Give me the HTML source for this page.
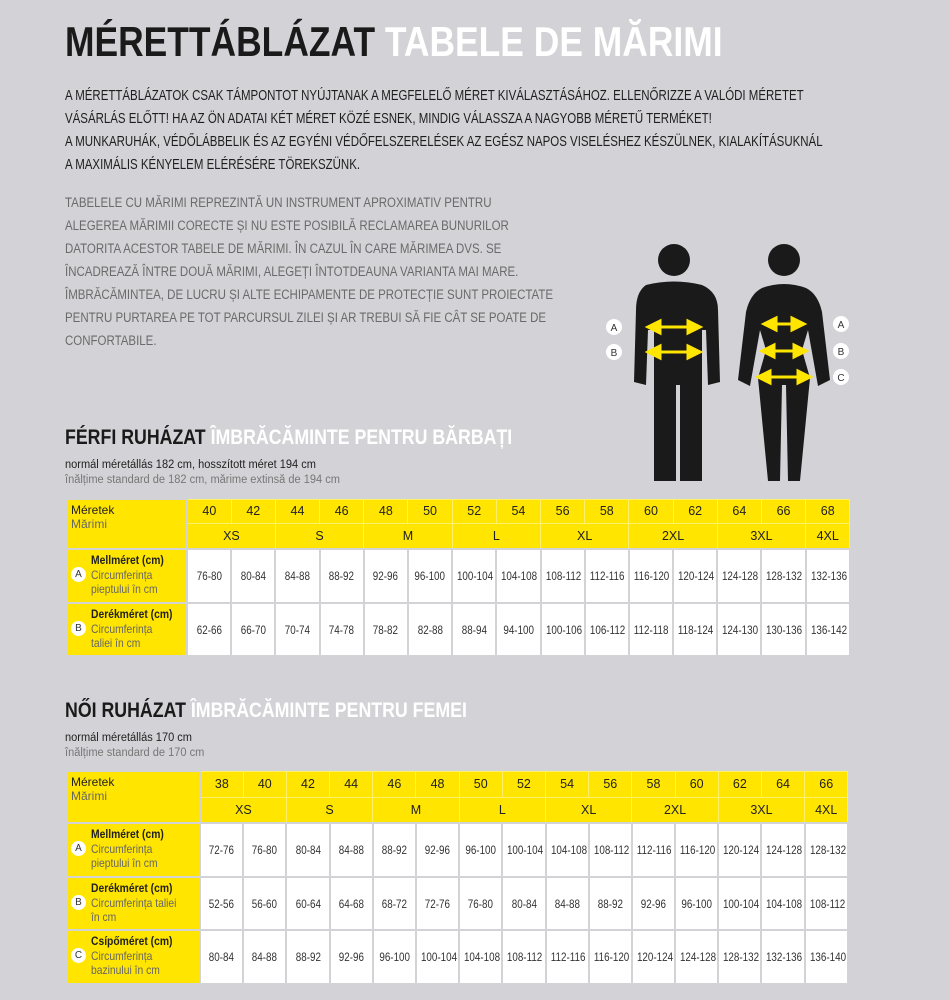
<!DOCTYPE html>
<html><head><meta charset="utf-8"><style>
body{margin:0;width:950px;height:1000px;background:#d3d3d7;position:relative;overflow:hidden;font-family:"Liberation Sans Narrow","Liberation Sans",sans-serif;}
.a{position:absolute;white-space:nowrap}
.sx{transform-origin:0 0}
h1{position:absolute;left:65px;top:18px;margin:0;font-size:42px;font-weight:bold;color:#1a1a1a;white-space:nowrap;transform:scaleX(0.843);transform-origin:0 0}
h1 span{color:#fff}
.hu{left:65px;font-size:15px;color:#1e1e1e;line-height:23px;top:84px;transform:scaleX(0.765)}
.ro{left:65px;font-size:14.2px;color:#6a6a6a;line-height:23px;top:192px;transform:scaleX(0.81)}
h2{position:absolute;left:65px;margin:0;font-size:21px;font-weight:bold;color:#1a1a1a;white-space:nowrap;transform:scaleX(0.845);transform-origin:0 0}
h2 span{color:#fff}
.sub{left:65px;font-size:11.5px;line-height:15px;color:#222;transform:scaleX(0.96)}
.sub i{font-style:normal;color:#777}
table{position:absolute;left:65px;border-collapse:collapse;table-layout:fixed;font-size:12px;color:#333}
td{text-align:center;padding:0;vertical-align:middle;white-space:nowrap;overflow:visible}
td span.n{display:inline-block;transform:scaleX(0.82)}
td.h{background:#ffe500;color:#222;border:1px solid #fff06a;font-size:12.5px}
td.l{background:#ffe500;border:2px solid #d3d3d7;text-align:left;padding-left:4px;font-size:12px;color:#222;line-height:14px;vertical-align:top;padding-top:3px}
td.l i{font-style:normal;color:#666}
td.d{background:#fff;border:2px solid #d3d3d7}
.lab{display:flex;align-items:center}
.c{display:inline-block;width:15px;height:15px;border-radius:50%;background:#fff;color:#333;font-size:10px;text-align:center;line-height:15px;margin-right:5px;flex:none}
.lab div{line-height:14.5px;color:#666;transform:scaleX(0.86);transform-origin:0 50%}
.lab div b{color:#222}
</style></head><body>
<h1>MÉRETTÁBLÁZAT <span>TABELE DE MĂRIMI</span></h1>
<div class="a hu sx">A MÉRETTÁBLÁZATOK CSAK TÁMPONTOT NYÚJTANAK A MEGFELELŐ MÉRET KIVÁLASZTÁSÁHOZ. ELLENŐRIZZE A VALÓDI MÉRETET<br>VÁSÁRLÁS ELŐTT! HA AZ ÖN ADATAI KÉT MÉRET KÖZÉ ESNEK, MINDIG VÁLASSZA A NAGYOBB MÉRETŰ TERMÉKET!<br>A MUNKARUHÁK, VÉDŐLÁBBELIK ÉS AZ EGYÉNI VÉDŐFELSZERELÉSEK AZ EGÉSZ NAPOS VISELÉSHEZ KÉSZÜLNEK, KIALAKÍTÁSUKNÁL<br>A MAXIMÁLIS KÉNYELEM ELÉRÉSÉRE TÖREKSZÜNK.</div>
<div class="a ro sx">TABELELE CU MĂRIMI REPREZINTĂ UN INSTRUMENT APROXIMATIV PENTRU<br>ALEGEREA MĂRIMII CORECTE ȘI NU ESTE POSIBILĂ RECLAMAREA BUNURILOR<br>DATORITA ACESTOR TABELE DE MĂRIMI. ÎN CAZUL ÎN CARE MĂRIMEA DVS. SE<br>ÎNCADREAZĂ ÎNTRE DOUĂ MĂRIMI, ALEGEȚI ÎNTOTDEAUNA VARIANTA MAI MARE.<br>ÎMBRĂCĂMINTEA, DE LUCRU ȘI ALTE ECHIPAMENTE DE PROTECȚIE SUNT PROIECTATE<br>PENTRU PURTAREA PE TOT PARCURSUL ZILEI ȘI AR TREBUI SĂ FIE CÂT SE POATE DE<br>CONFORTABILE.</div>

<svg class="a" style="left:590px;top:230px" width="270" height="260" viewBox="0 0 270 260">
<g fill="#1a1a1a">
<circle cx="84" cy="30" r="16"/>
<path d="M56 55 Q84 48 112 55 Q128 62 128 80 L130 152 L118 155 L116 100 L112 100 L112 251 L90 251 L90 155 L86 155 L86 251 L64 251 L64 100 L58 100 L56 155 L44 152 L46 80 Q46 62 56 55Z"/>
<circle cx="194" cy="30" r="16"/>
<path d="M172 58 Q194 50 216 58 Q228 64 232 82 L240 150 L228 156 L218 100 L212 120 L220 148 L210 251 L198 251 L196 155 L192 155 L190 251 L178 251 L168 148 L176 120 L170 100 L160 156 L148 150 L156 82 Q160 64 172 58Z"/>
</g>
<g fill="#ffe500" stroke="#ffe500" stroke-width="3">
<line x1="66" y1="97" x2="102" y2="97"/><path d="M58 97 L70 91 L70 103Z"/><path d="M110 97 L98 91 L98 103Z"/>
<line x1="66" y1="122" x2="102" y2="122"/><path d="M58 122 L70 116 L70 128Z"/><path d="M110 122 L98 116 L98 128Z"/>
<line x1="182" y1="94" x2="206" y2="94"/><path d="M174 94 L186 88 L186 100Z"/><path d="M214 94 L202 88 L202 100Z"/>
<line x1="180" y1="121" x2="208" y2="121"/><path d="M172 121 L184 115 L184 127Z"/><path d="M216 121 L204 115 L204 127Z"/>
<line x1="176" y1="147" x2="212" y2="147"/><path d="M168 147 L180 141 L180 153Z"/><path d="M220 147 L208 141 L208 153Z"/>
</g>
<g fill="#fff"><circle cx="24" cy="97" r="8"/><circle cx="24" cy="122" r="8"/><circle cx="251" cy="94" r="8"/><circle cx="251" cy="121" r="8"/><circle cx="251" cy="147" r="8"/></g>
<g font-family="Liberation Sans,sans-serif" font-size="10" fill="#333" text-anchor="middle"><text x="24" y="101">A</text><text x="24" y="126">B</text><text x="251" y="98">A</text><text x="251" y="125">B</text><text x="251" y="151">C</text></g>
</svg>

<h2 style="top:426px">FÉRFI RUHÁZAT <span>ÎMBRĂCĂMINTE PENTRU BĂRBAȚI</span></h2>
<div class="a sub sx" style="top:458px">normál méretállás 182 cm, hosszított méret 194 cm<br><i>înălțime standard de 182 cm, mărime extinsă de 194 cm</i></div>

<table style="top:498px;width:784px">
<colgroup><col style="width:121px"><col span="15" style="width:44.2px"></colgroup>
<tr style="height:24px"><td class="l" rowspan="2">Méretek<br><i>Mărimi</i></td><td class="h">40</td><td class="h">42</td><td class="h">44</td><td class="h">46</td><td class="h">48</td><td class="h">50</td><td class="h">52</td><td class="h">54</td><td class="h">56</td><td class="h">58</td><td class="h">60</td><td class="h">62</td><td class="h">64</td><td class="h">66</td><td class="h">68</td></tr>
<tr style="height:26px"><td class="h" colspan="2">XS</td><td class="h" colspan="2">S</td><td class="h" colspan="2">M</td><td class="h" colspan="2">L</td><td class="h" colspan="2">XL</td><td class="h" colspan="2">2XL</td><td class="h" colspan="2">3XL</td><td class="h">4XL</td></tr>
<tr style="height:54px"><td class="l"><div class="lab"><span class="c">A</span><div><b>Mellméret (cm)</b><br>Circumferința<br>pieptului în cm</div></div></td><td class="d"><span class="n">76-80</span></td><td class="d"><span class="n">80-84</span></td><td class="d"><span class="n">84-88</span></td><td class="d"><span class="n">88-92</span></td><td class="d"><span class="n">92-96</span></td><td class="d"><span class="n">96-100</span></td><td class="d"><span class="n">100-104</span></td><td class="d"><span class="n">104-108</span></td><td class="d"><span class="n">108-112</span></td><td class="d"><span class="n">112-116</span></td><td class="d"><span class="n">116-120</span></td><td class="d"><span class="n">120-124</span></td><td class="d"><span class="n">124-128</span></td><td class="d"><span class="n">128-132</span></td><td class="d"><span class="n">132-136</span></td></tr>
<tr style="height:53px"><td class="l"><div class="lab"><span class="c">B</span><div><b>Derékméret (cm)</b><br>Circumferința<br>taliei în cm</div></div></td><td class="d"><span class="n">62-66</span></td><td class="d"><span class="n">66-70</span></td><td class="d"><span class="n">70-74</span></td><td class="d"><span class="n">74-78</span></td><td class="d"><span class="n">78-82</span></td><td class="d"><span class="n">82-88</span></td><td class="d"><span class="n">88-94</span></td><td class="d"><span class="n">94-100</span></td><td class="d"><span class="n">100-106</span></td><td class="d"><span class="n">106-112</span></td><td class="d"><span class="n">112-118</span></td><td class="d"><span class="n">118-124</span></td><td class="d"><span class="n">124-130</span></td><td class="d"><span class="n">130-136</span></td><td class="d"><span class="n">136-142</span></td></tr>
</table>

<h2 style="top:699px">NŐI RUHÁZAT <span>ÎMBRĂCĂMINTE PENTRU FEMEI</span></h2>
<div class="a sub sx" style="top:731px">normál méretállás 170 cm<br><i>înălțime standard de 170 cm</i></div>

<table style="top:770px;width:783px">
<colgroup><col style="width:134px"><col span="15" style="width:43.2px"></colgroup>
<tr style="height:26px"><td class="l" rowspan="2">Méretek<br><i>Mărimi</i></td><td class="h">38</td><td class="h">40</td><td class="h">42</td><td class="h">44</td><td class="h">46</td><td class="h">48</td><td class="h">50</td><td class="h">52</td><td class="h">54</td><td class="h">56</td><td class="h">58</td><td class="h">60</td><td class="h">62</td><td class="h">64</td><td class="h">66</td></tr>
<tr style="height:26px"><td class="h" colspan="2">XS</td><td class="h" colspan="2">S</td><td class="h" colspan="2">M</td><td class="h" colspan="2">L</td><td class="h" colspan="2">XL</td><td class="h" colspan="2">2XL</td><td class="h" colspan="2">3XL</td><td class="h">4XL</td></tr>
<tr style="height:54px"><td class="l"><div class="lab"><span class="c">A</span><div><b>Mellméret (cm)</b><br>Circumferința<br>pieptului în cm</div></div></td><td class="d"><span class="n">72-76</span></td><td class="d"><span class="n">76-80</span></td><td class="d"><span class="n">80-84</span></td><td class="d"><span class="n">84-88</span></td><td class="d"><span class="n">88-92</span></td><td class="d"><span class="n">92-96</span></td><td class="d"><span class="n">96-100</span></td><td class="d"><span class="n">100-104</span></td><td class="d"><span class="n">104-108</span></td><td class="d"><span class="n">108-112</span></td><td class="d"><span class="n">112-116</span></td><td class="d"><span class="n">116-120</span></td><td class="d"><span class="n">120-124</span></td><td class="d"><span class="n">124-128</span></td><td class="d"><span class="n">128-132</span></td></tr>
<tr style="height:53px"><td class="l"><div class="lab"><span class="c">B</span><div><b>Derékméret (cm)</b><br>Circumferința taliei<br>în cm</div></div></td><td class="d"><span class="n">52-56</span></td><td class="d"><span class="n">56-60</span></td><td class="d"><span class="n">60-64</span></td><td class="d"><span class="n">64-68</span></td><td class="d"><span class="n">68-72</span></td><td class="d"><span class="n">72-76</span></td><td class="d"><span class="n">76-80</span></td><td class="d"><span class="n">80-84</span></td><td class="d"><span class="n">84-88</span></td><td class="d"><span class="n">88-92</span></td><td class="d"><span class="n">92-96</span></td><td class="d"><span class="n">96-100</span></td><td class="d"><span class="n">100-104</span></td><td class="d"><span class="n">104-108</span></td><td class="d"><span class="n">108-112</span></td></tr>
<tr style="height:54px"><td class="l"><div class="lab"><span class="c">C</span><div><b>Csípőméret (cm)</b><br>Circumferința<br>bazinului în cm</div></div></td><td class="d"><span class="n">80-84</span></td><td class="d"><span class="n">84-88</span></td><td class="d"><span class="n">88-92</span></td><td class="d"><span class="n">92-96</span></td><td class="d"><span class="n">96-100</span></td><td class="d"><span class="n">100-104</span></td><td class="d"><span class="n">104-108</span></td><td class="d"><span class="n">108-112</span></td><td class="d"><span class="n">112-116</span></td><td class="d"><span class="n">116-120</span></td><td class="d"><span class="n">120-124</span></td><td class="d"><span class="n">124-128</span></td><td class="d"><span class="n">128-132</span></td><td class="d"><span class="n">132-136</span></td><td class="d"><span class="n">136-140</span></td></tr>
</table>
</body></html>
